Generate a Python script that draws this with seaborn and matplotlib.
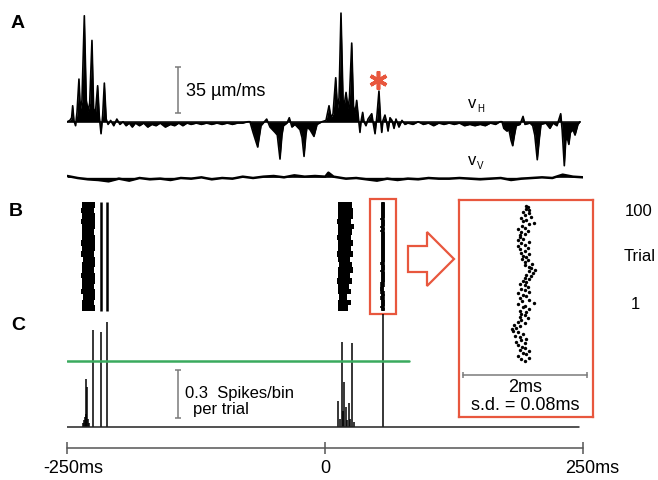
import numpy as np
import matplotlib
matplotlib.use("Agg")
import matplotlib.pyplot as plt
from matplotlib.patches import Polygon, Rectangle
import seaborn as sns

# ---- A: eye velocity (time in ms, velocity in um/ms)
vh_t = [-250, -247.5, -245.8, -244.8, -243.6, -242.0, -240.6, -238.7, -237.4, -235.8,
        -233.5, -231.6, -229.8, -228.3, -226.1, -224.5, -222.8, -220.6, -219.0, -217.3,
        -215.7, -214.1, -212.3, -210.5,
        -208, -205, -202, -199, -196, -193, -190, -187, -184, -180, -176, -172, -168,
        -164, -160, -155, -150, -146, -142, -138, -134, -130, -125, -120, -115, -110,
        -105, -100, -95, -90, -85, -80, -75,
        -73.0, -70.0, -65.5, -62.3, -56.8, -53.6, -48.7, -46.5, -43.9, -42.0, -40.5,
        -37.1, -34.9, -32.3, -29.4, -24.5, -22.5, -20.6, -18.8, -17.7, -14.8, -11.0,
        -8.0, -3.2,
        0.7, 3.6, 5.5, 7.5, 10.1, 11.8, 13.3, 15.2, 17.2, 18.6, 20.1, 22.0, 23.4, 25.6,
        27.3, 28.8, 30.4, 32.2, 33.6, 34.6, 36.2, 37.5, 39.4, 41.4, 45.0, 46.2, 48.2,
        50.1, 52.0, 53.5, 54.7, 55.9, 57.8, 59.3, 60.8, 62.7, 64.6, 66.6, 68.5, 71.4,
        74.3, 77.2,
        80, 85, 90, 95, 100, 105, 110, 115, 120, 125, 130, 135, 140, 145, 150, 155,
        160, 165, 169.3,
        171.2, 173.0, 176.0, 178.0, 180.0, 181.6, 183.3, 185.0, 188.7, 191.6, 193.5,
        198.4, 201.0, 203.0, 205.4, 207.5, 209.0, 213.8, 217.7, 220.6, 224.5, 228.1,
        229.5, 231.6, 233.0, 234.5, 236.0, 237.5, 240.0, 242.0, 244.8, 246.8]
vh_v = [0, 1, 3, 12, 1, -3, 7, 32, 9, 16,
        79.5, 16, 8, 14, 61, 10, 6, 27, 4, -9,
        5, 29, 2, -2,
        1, -3, 2, -2, 0, -3, -1, -4, -1, -3, -1, -4, -2,
        -3, -1, -4, -2, -3, -1, -3, -1, -2, -1, -2, -1, -2,
        -1, -2, -1, -2, -1, -1, 0,
        0, -8, -19, -3, 2, -4, -8, -10, -28, -10, -3,
        -1, 3, -4, -2, -6, -12, -26, -10, -4, -6, -11,
        -2, 0,
        1, 12, 3, 6, 33, 10, 18, 81.5, 16, 14, 22, 10, 18, 59,
        12, 6, 16, 2, -8, 0, 7, 0, -3, 2, 6, 0, -9,
        5, 23, 2, -8, 1, 5, 0, -7, 3, 1, -5, 2, -4,
        1, -2,
        -1, -2, 0, -2, -1, -3, -1, -2, -1, -2, -1, -3, -2, -3, -2, -3,
        -1, -2, 0,
        0, -5, -7, -6, -14, -18, -10, -3, -2, 4, -2,
        -1, -3, -10, -28.5, -12, -2, -1, -5, -1, -3, 6,
        -6, -33, -14, -12, -17, -8, -6, -10, -2, 0]

vv_t = [-250, -240, -230, -220, -210, -200, -190, -180, -170, -160, -150, -140, -130,
        -120, -110, -100, -90, -80, -70, -60, -50, -40, -30, -20, -10, 0, 3, 8, 20,
        30, 40, 50, 60, 70, 80, 90, 100, 110, 120, 130, 140, 150, 160, 170, 180, 190,
        200, 210, 220, 230, 240, 250]
vv_v = [1.0, -0.5, -1.5, -2.0, -3.0, -1.0, -2.5, -0.5, -1.5, -1.0, -2.0, -0.5, -1.0,
        0.0, -1.5, -0.5, -1.0, 0.5, -0.5, 0.5, 1.0, 0.0, 1.5, 0.5, 1.0, 0.5, 3.5, 0.5, -1.0,
        -0.5, -1.5, -2.5, -1.0, -2.0, -1.0, -1.5, -0.5, -1.0, -1.0, -0.5, -1.0, -1.5, -1.0,
        -0.5, -2.0, -1.0, -0.5, 0.0, -0.5, 2.0, 0.5, 0.0]

# ---- B: raster (100 trials)
# jitter of the precisely timed spike, trial 1 .. 100 (ms)
trial_offsets = [0.02, -0.04, 0.09, -0.08, 0.04, -0.01, 0.10, -0.05, 0.03, -0.02,
                 -0.09, 0.02, -0.12, -0.04, 0.04, -0.06, -0.13, -0.01, -0.09, -0.17,
                 -0.18, -0.12, -0.05, -0.15, 0.02, -0.09, -0.04, 0.07, -0.06, 0.02,
                 -0.04, 0.05, -0.06, 0.10, -0.01, 0.03, -0.09, 0.18, -0.02, 0.09,
                 -0.05, 0.04, 0.00, -0.08, 0.10, 0.02, -0.04, 0.07, 0.03, -0.05,
                 0.05, 0.00, 0.10, 0.03, 0.12, 0.04, 0.15, 0.09, 0.19, 0.12,
                 0.10, 0.03, 0.14, 0.02, 0.07, -0.02, 0.04, 0.00, 0.09, -0.04,
                 0.02, -0.05, 0.07, -0.08, 0.03, -0.04, 0.09, -0.09, 0.00, -0.05,
                 -0.06, 0.02, -0.04, 0.07, -0.09, 0.03, -0.02, 0.10, 0.18, -0.01,
                 0.05, -0.04, 0.12, 0.02, 0.09, -0.01, 0.10, 0.04, 0.07, 0.05]
# edges of the jittered bursts, in blocks of 5 trials (ms)
burst1_left = [-235.5, -236.0, -235.0, -236.5, -235.5, -236.0, -237.0, -235.5, -236.0, -235.0,
               -236.5, -236.0, -237.0, -235.5, -236.0, -235.5, -236.5, -236.0, -237.0, -236.0]
burst1_right = [-223.5, -224.0, -223.0, -223.5, -224.0, -223.0, -223.5, -224.0, -223.5, -223.0,
                -224.0, -223.5, -223.0, -223.5, -224.0, -223.5, -223.0, -223.5, -224.0, -223.5]
burst2_left = [12.5, 12.0, 13.0, 12.0, 12.5, 11.5, 12.5, 12.0, 13.0, 12.0,
               11.5, 12.5, 12.0, 11.5, 12.5, 12.0, 11.5, 12.0, 12.5, 12.0]
burst2_right = [22.0, 24.5, 21.5, 25.0, 23.0, 26.0, 24.0, 27.0, 25.5, 23.5,
                26.5, 25.0, 27.0, 24.5, 26.0, 27.5, 25.0, 26.5, 27.0, 26.0]
burst1_columns = [-217.6, -211.8]
precise_spike = 55.5

# ---- C: PSTH (spikes/bin per trial)
psth_t = [-234.8, -233.8, -232.9, -232.2, -231.4, -230.6, -229.6, -228.5, -224.8, -217.6, -211.8,
          12.6, 14.2, 15.9, 17.2, 18.1, 19.8, 21.0, 23.3, 24.4, 26.2, 27.8, 55.5]
psth_h = [0.02, 0.04, 0.06, 0.30, 0.08, 0.25, 0.05, 0.02, 0.60, 0.59, 0.65,
          0.16, 0.05, 0.53, 0.10, 0.28, 0.12, 0.04, 0.15, 0.05, 0.52, 0.03, 1.0]
green_level = 0.41

RED = "#e8573e"
GREEN = "#3aaa5e"
GREY = "#7a7a7a"

sns.set_style("white")
plt.rcParams["font.family"] = ["Liberation Sans", "DejaVu Sans"]
plt.rcParams["font.size"] = 13
plt.rcParams["text.color"] = "black"

W, H = 658, 481
fig = plt.figure(figsize=(W / 100, H / 100), dpi=100)


def px_axes(x0, y0, x1, y1, frame=False):
    ax = fig.add_axes([x0 / W, 1 - y1 / H, (x1 - x0) / W, (y1 - y0) / H])
    if not frame:
        ax.set_axis_off()
    return ax


def ftext(x, y, s, **kw):
    fig.text(x / W, 1 - y / H, s, ha=kw.pop("ha", "center"), va=kw.pop("va", "center"), **kw)


X0, X1 = 67.3, 583.3  # pixel span of -250..250 ms

# A
axA = px_axes(X0, 5, X1, 195)
axA.set_xlim(-250, 250)
axA.set_ylim(-54.2, 88.3)
sns.lineplot(x=vh_t, y=vh_v, ax=axA, color="black", lw=1.2, sort=False, estimator=None)
axA.fill_between(vh_t, vh_v, 0, color="black", lw=0)
axA.axhline(0, xmin=0, xmax=0.993, color="black", lw=1.1)
vv_off = -41.7
vv = np.array(vv_v) + vv_off
sns.lineplot(x=vv_t, y=vv, ax=axA, color="black", lw=1.8, sort=False, estimator=None)
axA.fill_between(vv_t, vv, vv_off, color="black", lw=0)
axA.vlines(-142.4, 6.3, 41.3, color=GREY, lw=1.1)
axA.hlines([6.3, 41.3], -145.4, -139.4, color=GREY, lw=1.1)
axA.text(-135.3, 23.3, "35 \u00b5m/ms", ha="left", va="center")
axA.plot(51.4, 31.0, marker=(6, 2, 0), ms=13, mew=2.6, color=RED, ls="none")
ftext(472.5, 103, "v", fontsize=12)
ftext(480.5, 108.5, "H", fontsize=7)
ftext(472.5, 161, "v", fontsize=12)
ftext(480, 166, "V", fontsize=7)

# B
axB = px_axes(X0, 200, X1, 315)
axB.set_xlim(-250, 250)
axB.set_ylim(-2.5, 103.5)
blocks = np.arange(20) * 5 + 3
for left, right in [(burst1_left, burst1_right), (burst2_left, burst2_right)]:
    axB.barh(blocks, np.array(right) - np.array(left), left=left, height=5, color="black", lw=0)
axB.vlines(burst1_columns, 0.5, 100.5, color="black", lw=1.8)
trials = np.arange(1, 101)
axB.vlines(precise_spike + np.array(trial_offsets), trials - 1.0, trials + 1.0,
           color="black", lw=2.6, capstyle="butt")
axB.add_patch(Rectangle((43.6, -2.5), 24.5, 106, fill=False, ec=RED, lw=1.6, clip_on=False))

# arrow
arrow = [(408, 247), (427, 247), (427, 233), (454, 260), (427, 287), (427, 273), (408, 273)]
fig.patches.append(Polygon([(x / W, 1 - y / H) for x, y in arrow], closed=True, fill=False,
                           ec=RED, lw=1.6, transform=fig.transFigure))

# inset
axI = px_axes(459, 201, 593.3, 417.7, frame=True)
axI.set_xlim(-1.037, 1.129)
axI.set_ylim(-34.8, 103.6)
axI.set_xticks([])
axI.set_yticks([])
for sp in axI.spines.values():
    sp.set_color(RED)
    sp.set_linewidth(1.6)
sns.scatterplot(x=trial_offsets, y=trials, ax=axI, s=6, color="black", linewidth=0)
axI.plot([-0.965, 1.035], [-8.1, -8.1], color=GREY, lw=1.1)
axI.vlines([-0.965, 1.035], -10, -6.2, color=GREY, lw=1.1)
axI.text(0.035, -15.6, "2ms", ha="center", va="center")
axI.text(0.035, -26.7, "s.d. = 0.08ms", ha="center", va="center")

ftext(639, 211, "100", fontsize=12)
ftext(640, 257, "Trial", fontsize=12)
ftext(635, 305, "1", fontsize=12)

# C
axC = px_axes(X0, 315, X1, 481)
axC.set_xlim(-250, 250)
axC.set_ylim(-0.334, 0.703)
axC.vlines(psth_t, 0, psth_h, color="black", lw=1.1)
axC.plot([-250, 246], [0, 0], color="#222222", lw=1.1)
axC.plot([-250, 81.4], [green_level, green_level], color=GREEN, lw=1.8)
axC.vlines(-142.4, 0.053, 0.353, color=GREY, lw=1.1)
axC.hlines([0.053, 0.353], -145.4, -139.4, color=GREY, lw=1.1)
axC.text(-136, 0.21, "0.3  Spikes/bin", ha="left", va="center", fontsize=12)
axC.text(-101.6, 0.11, "per trial", ha="center", va="center", fontsize=12)
yax = -0.134
axC.plot([-250, 250], [yax, yax], color="#555555", lw=1.1, clip_on=False)
axC.vlines([-250, 0, 250], yax - 0.0375, yax + 0.0375, color="#555555", lw=1.1, clip_on=False)
for xt, lab in [(-244, "-250ms"), (0, "0"), (259, "250ms")]:
    axC.text(xt, -0.259, lab, ha="center", va="center")

for lab, x, y in [("A", 18, 23), ("B", 16, 212), ("C", 18, 326)]:
    ftext(x, y, lab, fontsize=14, fontweight="bold")

fig.savefig("out.png", dpi=100)
